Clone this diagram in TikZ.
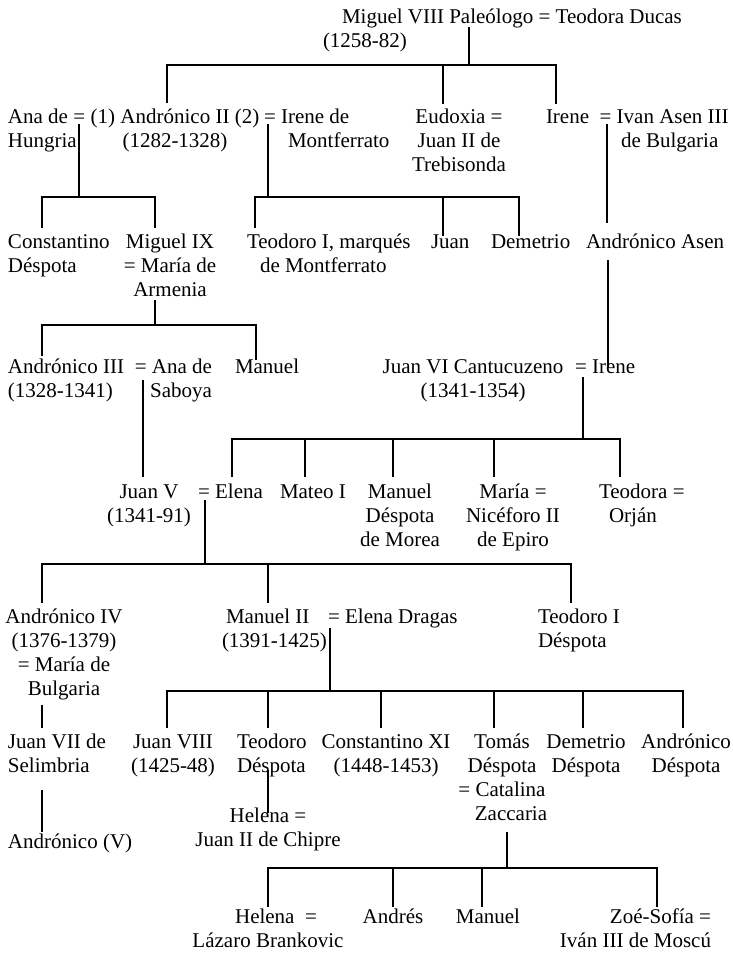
\documentclass[tikz,border=0pt]{standalone}
\usepackage{fontspec}
\setmainfont{Liberation Serif}
\begin{document}
\begin{tikzpicture}[x=1pt,y=-1pt,
  kin/.style={line width=1.8pt, draw=black, line cap=butt},
  p/.style={inner sep=0pt, outer sep=0pt, font=\fontsize{21}{24}\selectfont, text=black},
  pl/.style={p, align=left, anchor=base west},
  pc/.style={p, align=center, anchor=base},
  pr/.style={p, align=right, anchor=base east}]
\fill[white] (0,0) rectangle (732,953);
\useasboundingbox (0,0) rectangle (732,953);

% ---------- people (each node placed at the baseline of its last line) ----------
\node[pl] (top) at (323,47) {\hspace*{19pt}Miguel VIII Paleólogo = Teodora Ducas\\(1258-82)};

\node[pl] (ana) at (8,147) {Ana de =\\Hungria};
\node[pc] (andII) at (175,147) {(1) Andrónico II (2)\\(1282-1328)};
\node[pl] (ireneM) at (264,147) {= Irene de\\\hspace*{24pt}Montferrato};
\node[pc] (eudoxia) at (459,171) {Eudoxia =\\Juan II de\\Trebisonda};
\node[pl] (ireneB) at (546,147) {Irene\ \ = Ivan Asen III\\\hspace*{75pt}de Bulgaria};

\node[pl] (constantino) at (8,272) {Constantino\\Déspota};
\node[pc] (miguelIX) at (170,296) {Miguel IX\\= María de\\Armenia};
\node[pl] (teodoroI) at (247,272) {Teodoro I, marqués\\\hspace*{13pt}de Montferrato};
\node[pl] (juan) at (431,248) {Juan};
\node[pl] (demetrio) at (491,248) {Demetrio};
\node[pl] (asen) at (586,248) {Andrónico Asen};

\node[pl] (andIII) at (8,397) {Andrónico III\\(1328-1341)};
\node[pr] (anaS) at (212,397) {= Ana de\\Saboya};
\node[pl] (manuelA) at (235,373) {Manuel};
\node[pc] (juanVI) at (473,397) {Juan VI Cantucuzeno\\(1341-1354)};
\node[pl] (ireneC) at (575,373) {= Irene};

\node[pc] (juanV) at (149,522) {Juan V\\(1341-91)};
\node[pl] (elena) at (198,498) {= Elena};
\node[pl] (mateo) at (280,498) {Mateo I};
\node[pc] (manuelD) at (400,546) {Manuel\\Déspota\\de Morea};
\node[pc] (maria) at (513,546) {María =\\Nicéforo II\\de Epiro};
\node[pl] (teodora) at (599,522) {Teodora =\\\hspace*{10pt}Orján};

\node[pc] (andIV) at (64,695) {Andrónico IV\\(1376-1379)\\= María de\\Bulgaria};
\node[pl] (manuelII) at (222,647) {\hspace*{4pt}Manuel II\\(1391-1425)};
\node[pl] (elenaD) at (328,623) {= Elena Dragas};
\node[pl] (teodoroID) at (538,647) {Teodoro I\\Déspota};

\node[pl] (juanVII) at (8,772) {Juan VII de\\Selimbria};
\node[pc] (juanVIII) at (173,772) {Juan VIII\\(1425-48)};
\node[pl] (teodoroD) at (237,772) {Teodoro\\Déspota};
\node[pc] (constXI) at (386,772) {Constantino XI\\(1448-1453)};
\node[pc] (tomas) at (502,820) {Tomás\\Déspota\\= Catalina\\\hspace*{18pt}Zaccaria};
\node[pc] (demetrioD) at (586,772) {Demetrio\\Déspota};
\node[pc] (andronicoD) at (686,772) {Andrónico\\Déspota};

\node[pl] (andV) at (8,848) {Andrónico (V)};
\node[pc] (helenaC) at (268,846) {Helena =\\Juan II de Chipre};

\node[pc] (helenaL) at (268,947) {\hspace*{16pt}Helena\ \ =\\Lázaro Brankovic};
\node[pc] (andres) at (393,923) {Andrés};
\node[pc] (manuelZ) at (488,923) {Manuel};
\node[pr] (zoe) at (711,947) {Zoé-Sofía =\\Iván III de Moscú};

% ---------- lines of descent ----------
% Miguel VIII = Teodora Ducas
\coordinate (m0) at (469,27);   \coordinate (m0b) at (469,65);
\coordinate (m0l) at (167,103); \coordinate (m0r) at (556,104);
\coordinate (m0e) at (443,104);
\draw[kin] (m0) -- (m0b);
\draw[kin] (m0l) |- (m0r |- m0b) -- (m0r);
\draw[kin] (m0e |- m0b) -- (m0e);

% Ana de Hungria = Andronico II
\coordinate (m1) at (79,124);  \coordinate (m1b) at (79,197);
\coordinate (m1l) at (42,228); \coordinate (m1r) at (155,228);
\draw[kin] (m1) -- (m1b);
\draw[kin] (m1l) |- (m1r |- m1b) -- (m1r);

% Andronico II = Irene de Montferrato
\coordinate (m2) at (268,124);  \coordinate (m2b) at (268,197);
\coordinate (m2l) at (255,228); \coordinate (m2r) at (519,236);
\coordinate (m2j) at (443,236);
\draw[kin] (m2) -- (m2b);
\draw[kin] (m2l) |- (m2r |- m2b) -- (m2r);
\draw[kin] (m2j |- m2b) -- (m2j);

% Irene = Ivan Asen III
\coordinate (m3) at (607,124); \coordinate (m3e) at (607,223);
\draw[kin] (m3) -- (m3e);

% Andronico Asen -> Irene
\coordinate (m4) at (608,260); \coordinate (m4e) at (608,368);
\draw[kin] (m4) -- (m4e);

% Miguel IX = Maria de Armenia
\coordinate (m5) at (155,300);  \coordinate (m5b) at (155,325);
\coordinate (m5l) at (42,356);  \coordinate (m5r) at (256,360);
\draw[kin] (m5) -- (m5b);
\draw[kin] (m5l) |- (m5r |- m5b) -- (m5r);

% Andronico III = Ana de Saboya
\coordinate (m6) at (143,380); \coordinate (m6e) at (143,477);
\draw[kin] (m6) -- (m6e);

% Juan VI Cantacuzeno = Irene
\coordinate (m7) at (583,377);  \coordinate (m7b) at (583,439);
\coordinate (m7l) at (232,477); \coordinate (m7r) at (620,477);
\coordinate (m7a) at (305,477); \coordinate (m7c) at (393,477);
\coordinate (m7d) at (494,477);
\draw[kin] (m7) -- (m7b);
\draw[kin] (m7l) |- (m7r |- m7b) -- (m7r);
\draw[kin] (m7a |- m7b) -- (m7a);
\draw[kin] (m7c |- m7b) -- (m7c);
\draw[kin] (m7d |- m7b) -- (m7d);

% Juan V = Elena
\coordinate (m8) at (205,500);  \coordinate (m8b) at (205,564);
\coordinate (m8l) at (42,603);  \coordinate (m8r) at (571,603);
\coordinate (m8a) at (268,603);
\draw[kin] (m8) -- (m8b);
\draw[kin] (m8l) |- (m8r |- m8b) -- (m8r);
\draw[kin] (m8a |- m8b) -- (m8a);

% Manuel II = Elena Dragas
\coordinate (m9) at (330,628);  \coordinate (m9b) at (330,691);
\coordinate (m9l) at (167,728); \coordinate (m9r) at (683,728);
\coordinate (m9a) at (268,728); \coordinate (m9c) at (381,728);
\coordinate (m9d) at (494,728); \coordinate (m9f) at (583,728);
\draw[kin] (m9) -- (m9b);
\draw[kin] (m9l) |- (m9r |- m9b) -- (m9r);
\draw[kin] (m9a |- m9b) -- (m9a);
\draw[kin] (m9c |- m9b) -- (m9c);
\draw[kin] (m9d |- m9b) -- (m9d);
\draw[kin] (m9f |- m9b) -- (m9f);

% Andronico IV = Maria de Bulgaria -> Juan VII -> Andronico (V)
\coordinate (m10) at (42,705); \coordinate (m10e) at (42,728);
\draw[kin] (m10) -- (m10e);
\coordinate (m11) at (42,790); \coordinate (m11e) at (42,832);
\draw[kin] (m11) -- (m11e);

% Teodoro Despota -> Helena
\coordinate (m12) at (268,770); \coordinate (m12e) at (268,813);
\draw[kin] (m12) -- (m12e);

% Tomas = Catalina Zaccaria
\coordinate (m13) at (507,832);  \coordinate (m13b) at (507,868);
\coordinate (m13l) at (268,907); \coordinate (m13r) at (657,907);
\coordinate (m13a) at (393,907); \coordinate (m13c) at (482,907);
\draw[kin] (m13) -- (m13b);
\draw[kin] (m13l) |- (m13r |- m13b) -- (m13r);
\draw[kin] (m13a |- m13b) -- (m13a);
\draw[kin] (m13c |- m13b) -- (m13c);
\end{tikzpicture}
\end{document}
